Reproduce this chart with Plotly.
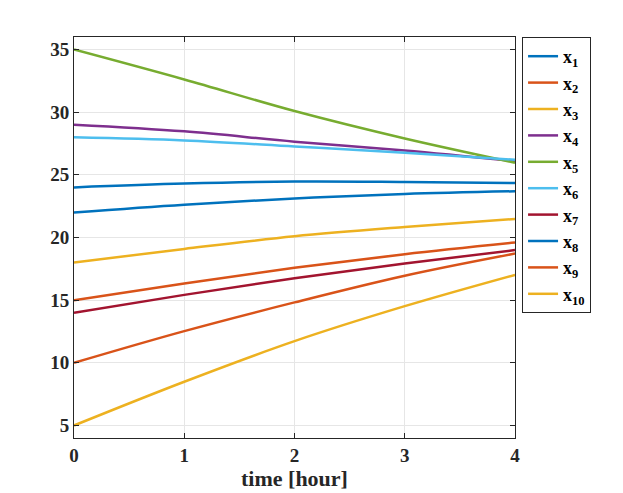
import plotly.graph_objects as go

t = [0, 1, 2, 3, 4]
x1 = [24.0, 24.30, 24.46, 24.43, 24.35]
x2 = [15.0, 16.33, 17.58, 18.67, 19.60]
x3 = [18.0, 19.09, 20.10, 20.84, 21.48]
x4 = [29.0, 28.47, 27.65, 26.95, 26.10]
x5 = [35.0, 32.61, 30.09, 27.90, 25.97]
x6 = [28.0, 27.75, 27.27, 26.77, 26.20]
x7 = [14.0, 15.42, 16.75, 17.92, 19.00]
x8 = [22.0, 22.62, 23.12, 23.47, 23.69]
x9 = [10.0, 12.53, 14.82, 16.95, 18.72]
x10 = [5.0, 8.49, 11.73, 14.52, 17.02]

series = [x1, x2, x3, x4, x5, x6, x7, x8, x9, x10]
names = ["x<sub>%d</sub>" % (i + 1) for i in range(10)]
colors = ["#0072BD", "#D95319", "#EDB120", "#7E2F8E", "#77AC30",
          "#4DBEEE", "#A2142F", "#0072BD", "#D95319", "#EDB120"]

x_ticks = [0, 1, 2, 3, 4]
y_ticks = [5, 10, 15, 20, 25, 30, 35]

fig = go.Figure()
for s, n, c in zip(series, names, colors):
    fig.add_trace(go.Scatter(x=t, y=s, name=n, mode="lines",
                             line=dict(color=c, width=2.5, shape="spline", smoothing=1.0)))

tickfont = dict(family="Liberation Serif", size=19, color="#262626", weight="bold")
fig.update_layout(
    width=623, height=493,
    margin=dict(l=66, r=116, t=29, b=63, autoexpand=False),
    paper_bgcolor="white", plot_bgcolor="white",
    font=dict(family="Liberation Serif", size=18, color="#262626"),
    showlegend=True,
    legend=dict(x=1.016, y=1.0, xanchor="left", yanchor="top",
                bordercolor="#262626", borderwidth=1, bgcolor="white",
                font=dict(family="Liberation Serif", size=18, color="#000000", weight="bold"),
                itemwidth=30, tracegroupgap=0),
)
fig.update_xaxes(range=[0, 4], tickvals=x_ticks, ticks="inside", ticklen=5,
                 tickcolor="#262626", showline=True, linecolor="#262626", linewidth=1,
                 mirror="ticks", showgrid=True, gridcolor="#e6e6e6", zeroline=False,
                 tickfont=tickfont, automargin=False,
                 title=dict(text="time [hour]", standoff=4,
                            font=dict(family="Liberation Serif", size=22, color="#262626",
                                      weight="bold")))
fig.update_yaxes(range=[4, 36], tickvals=y_ticks, ticks="inside", ticklen=5,
                 tickcolor="#262626", showline=True, linecolor="#262626", linewidth=1,
                 mirror="ticks", showgrid=True, gridcolor="#e6e6e6", zeroline=False,
                 tickfont=tickfont, automargin=False)

fig.write_html("out.html")
